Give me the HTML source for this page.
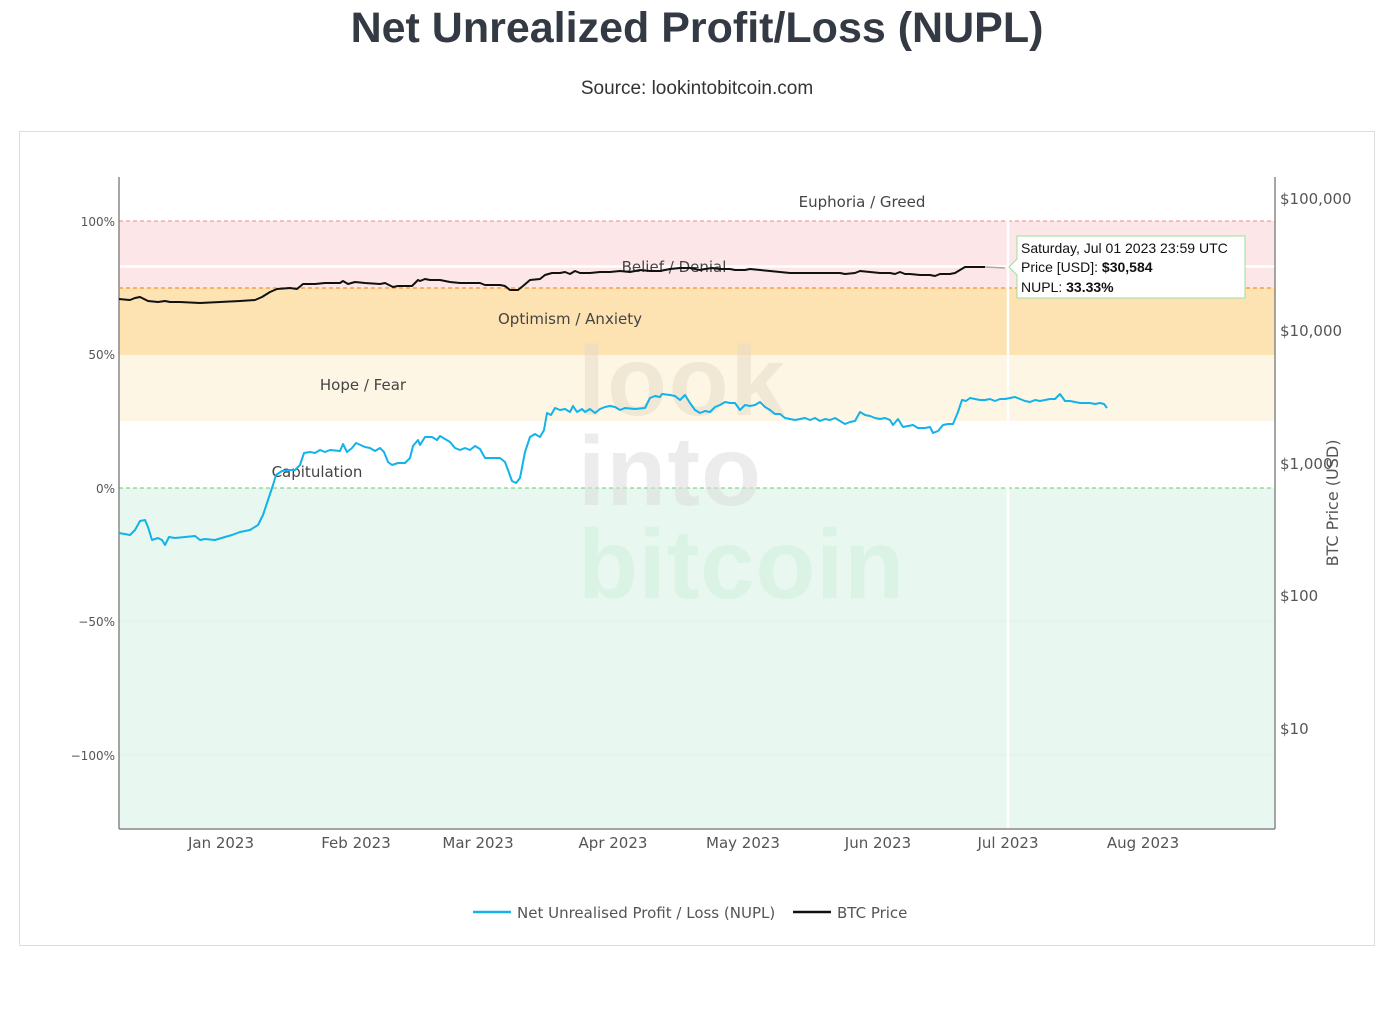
<!DOCTYPE html>
<html><head><meta charset="utf-8"><style>
body{margin:0;background:#fff;width:1395px;height:1007px;overflow:hidden;font-family:"Liberation Sans",sans-serif}
</style></head><body>
<svg width="1395" height="1007" xmlns="http://www.w3.org/2000/svg" font-family="Liberation Sans, DejaVu Sans, sans-serif">
<text x="697" y="42" text-anchor="middle" font-size="43" font-weight="bold" fill="#333a44">Net Unrealized Profit/Loss (NUPL)</text>
<text x="697" y="94" text-anchor="middle" font-size="19" fill="#333">Source: lookintobitcoin.com</text>
<rect x="19.5" y="131.5" width="1355" height="814" fill="#fff" stroke="#ddd"/>
<rect x="119" y="221" width="1156" height="67" fill="#fde6e7"/>
<rect x="119" y="288" width="1156" height="67" fill="#fde2b2"/>
<rect x="119" y="355" width="1156" height="66" fill="#fef6e4"/>
<rect x="119" y="488" width="1156" height="341" fill="#e8f8f0"/>
<line x1="119" y1="621" x2="1275" y2="621" stroke="#dfeee6"/>
<line x1="119" y1="755" x2="1275" y2="755" stroke="#dfeee6"/>
<line x1="119" y1="221" x2="1275" y2="221" stroke="#e88" stroke-dasharray="4,3"/>
<line x1="119" y1="288" x2="1275" y2="288" stroke="#f5a050" stroke-dasharray="4,3" stroke-width="1.5"/>
<line x1="119" y1="488" x2="1275" y2="488" stroke="#6c6" stroke-dasharray="4,3"/>
<g font-size="98" font-weight="bold">
<text x="578" y="415" fill="#e6dcc8" opacity="0.55" textLength="207">look</text>
<text x="578" y="505" fill="#ddd" opacity="0.55" textLength="183">into</text>
<text x="578" y="598" fill="#d8f2e2" opacity="0.8" textLength="326">bitcoin</text>
</g>
<line x1="119" y1="266.5" x2="1275" y2="266.5" stroke="#fff" stroke-width="2.5"/>
<line x1="1008" y1="177" x2="1008" y2="829" stroke="#fff" stroke-width="2.5"/>
<g font-size="15" fill="#444" text-anchor="middle" font-family="DejaVu Sans, sans-serif">
<text x="862" y="207">Euphoria / Greed</text>
<text x="674" y="272">Belief / Denial</text>
<text x="570" y="324">Optimism / Anxiety</text>
<text x="363" y="390">Hope / Fear</text>
<text x="317" y="477">Capitulation</text>
</g>
<line x1="119" y1="177" x2="119" y2="829" stroke="#888" stroke-width="1.5"/>
<line x1="1275" y1="177" x2="1275" y2="829" stroke="#888" stroke-width="1.5"/>
<line x1="119" y1="829" x2="1275" y2="829" stroke="#888" stroke-width="1.5"/>
<g font-size="12" fill="#555" text-anchor="end" font-family="DejaVu Sans, sans-serif">
<text x="115" y="226">100%</text><text x="115" y="359">50%</text><text x="115" y="493">0%</text>
<text x="115" y="626">−50%</text><text x="115" y="760">−100%</text>
</g>
<g font-size="15" fill="#555" font-family="DejaVu Sans, sans-serif">
<text x="1280" y="204">$100,000</text><text x="1280" y="336">$10,000</text><text x="1280" y="469">$1,000</text>
<text x="1280" y="601">$100</text><text x="1280" y="734">$10</text>
<text transform="translate(1338,503) rotate(-90)" text-anchor="middle" font-size="16">BTC Price (USD)</text>
</g>
<g font-size="15" fill="#555" text-anchor="middle" font-family="DejaVu Sans, sans-serif">
<text x="221" y="848">Jan 2023</text><text x="356" y="848">Feb 2023</text><text x="478" y="848">Mar 2023</text>
<text x="613" y="848">Apr 2023</text><text x="743" y="848">May 2023</text><text x="878" y="848">Jun 2023</text>
<text x="1008" y="848">Jul 2023</text><text x="1143" y="848">Aug 2023</text>
</g>
<polyline fill="none" stroke="#12b2ea" stroke-width="2" stroke-linejoin="round" points="119,533 130,535 135,530 140,521 145,520 148,527 152,540 158,538 162,540 165,545 169,537 175,538 185,537 195,536 200,540 205,539 215,540 225,537 232,535 240,532 250,530 258,525 263,515 268,500 273,485 276,475 282,471 290,470 295,470 300,465 304,453 310,452 315,453 320,450 325,452 330,450 340,451 343,444 347,452 352,448 356,443 365,447 370,448 375,451 380,448 384,452 388,462 392,465 398,463 405,463 410,458 413,446 418,440 420,445 425,437 432,437 437,440 440,436 450,442 455,448 460,450 465,448 470,450 475,446 480,449 485,458 495,458 500,458 505,462 508,470 512,481 516,483 520,478 525,452 530,437 535,434 540,437 544,430 547,413 551,415 555,408 560,410 565,409 570,412 573,406 577,412 582,409 585,412 590,409 595,413 600,409 605,407 610,406 615,407 620,410 625,408 635,409 645,408 650,398 655,396 660,397 662,394 670,395 675,396 680,400 685,395 690,403 695,410 700,413 705,411 710,412 715,407 720,405 725,402 730,403 735,403 740,410 745,405 750,406 755,405 760,402 765,407 770,410 775,414 780,414 785,418 790,419 795,420 800,419 805,418 810,420 815,418 820,421 825,419 830,420 835,418 840,421 845,424 850,422 855,421 860,412 865,415 870,416 875,418 880,419 885,418 890,420 893,425 898,419 903,427 908,426 913,425 918,428 925,428 930,427 933,433 938,431 943,425 948,424 953,424 958,412 962,400 966,401 970,398 975,399 980,400 985,400 990,399 995,401 1000,399 1005,399 1010,398 1015,397 1020,399 1025,401 1030,402 1035,400 1040,401 1045,400 1050,399 1055,399 1060,394 1065,401 1070,401 1075,402 1080,403 1085,403 1090,403 1095,404 1100,403 1104,404 1107,408"/>
<polyline fill="none" stroke="#111" stroke-width="2" stroke-linejoin="round" points="119,299 130,300 135,298 140,297 148,301 158,302 165,301 170,302 180,302 200,303 220,302 240,301 255,300 262,297 270,292 277,289 290,288 297,289 303,284 315,284 325,283 340,283 343,281 348,284 355,282 365,283 380,284 385,283 393,287 398,286 412,286 418,280 420,281 425,279 430,280 440,280 450,282 460,283 470,283 480,283 485,285 500,285 505,286 510,290 518,290 523,286 530,280 540,279 545,275 552,273 560,273 565,272 570,274 575,271 580,273 590,273 600,272 610,272 620,271 630,272 640,270 650,271 660,271 670,269 680,268 690,268 700,270 705,269 712,268 720,269 730,269 735,270 745,270 750,269 760,270 770,271 780,272 790,273 800,273 810,273 820,273 830,273 840,273 845,274 855,273 860,271 870,272 880,273 890,273 895,274 900,272 905,274 910,274 920,275 930,275 935,276 940,274 950,274 955,273 960,270 965,267 975,267 985,267"/>
<line x1="985" y1="267" x2="1005" y2="268" stroke="#aaa" stroke-width="1.5"/>
<path d="M1017,236 H1245 V298 H1017 V275 L1009,267 L1017,259 Z" fill="#fff" stroke="#9ddf9d" stroke-width="1"/>
<g font-size="14" fill="#111">
<text x="1021" y="253">Saturday, Jul 01 2023 23:59 UTC</text>
<text x="1021" y="272">Price [USD]: <tspan font-weight="bold">$30,584</tspan></text>
<text x="1021" y="292">NUPL: <tspan font-weight="bold">33.33%</tspan></text>
</g>
<line x1="473" y1="912" x2="511" y2="912" stroke="#12b2ea" stroke-width="2.5"/>
<text x="517" y="918" font-size="15" fill="#555" font-family="DejaVu Sans, sans-serif">Net Unrealised Profit / Loss (NUPL)</text>
<line x1="793" y1="912" x2="831" y2="912" stroke="#111" stroke-width="2.5"/>
<text x="837" y="918" font-size="15" fill="#555" font-family="DejaVu Sans, sans-serif">BTC Price</text>
</svg>
</body></html>
